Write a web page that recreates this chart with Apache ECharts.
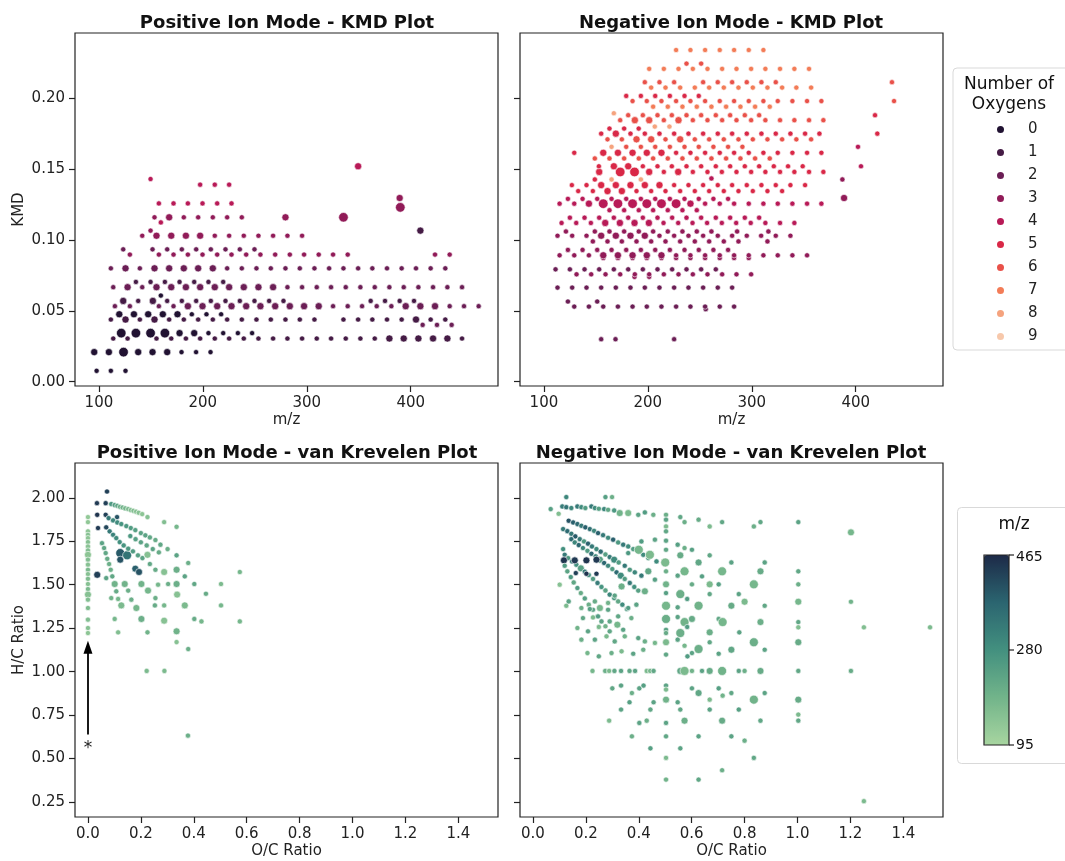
<!DOCTYPE html>
<html><head><meta charset="utf-8">
<script src="https://cdn.jsdelivr.net/npm/echarts@6/dist/echarts.min.js"></script>
<style>html,body{margin:0;padding:0;background:#fff}#c{width:1065px;height:861px}</style>
</head><body><div id="c"></div>
<script>
// ---------- DATA ----------
const oxygenLabels = ['0','1','2','3','4','5','6','7','8','9'];
const oxygenColors = ['#211232','#451b45','#6b1e55','#911b58','#b81a57','#d92847','#e95149','#f37c57','#f5a37e','#f7c8ab'];
const mzTicks = [100,200,300,400];
const kmdTicks = [0,0.05,0.1,0.15,0.2];
const ocTicks = [0,0.2,0.4,0.6,0.8,1.0,1.2,1.4];
const hcTicks = [0.25,0.5,0.75,1.0,1.25,1.5,1.75,2.0];
const mzColorbarTicks = [95,280,465];

// KMD rows: [KMD, number of oxygens, m/z values, size classes (default 1)]
const posKmdRows = [
 [0.0077,0,[97.8,111.5,125.6]],
 [0.0209,0,[95.5,109.6,123.7,137.8,151.6,165.7,179.5,193.5,207.4],[2,2,3,2,2,2,1,1,1]],
 [0.0305,1,[113.8,127.6,155.4,169.6,183.7,197.4,211.5,225.3,239.4,253.5,267.6,281.4,295.5,309.6,323.4,337.5,351.6,365.4,379.5,393.3,407.4,421.5,435.3,449.4],[1,1,1,1,1,1,1,1,1,1,1,1,1,1,1,1,1,1,2,2,2,2,2,1]],
 [0.0343,0,[121.5,135.6,149.7,163.5,177.6,191.7,205.4,219.6,233.7,247.4],[3,3,3,3,2,2,1,1,1,1]],
 [0.0401,2,[411.5,425.3,439.4]],
 [0.0439,1,[111.5,125.6,139.4,153.5,167.6,181.7,195.5,209.6,223.4,237.5,251.6,265.4,279.5,293.3,307.4,335.3,349.4,363.1,377.2,391.3,405.1,419.2,433.3],[1,2,1,2,1,1,1,1,1,1,1,1,1,1,1,1,1,1,1,1,2,1,1]],
 [0.0476,0,[119.6,133.7,147.4,161.5,175.6,189.4,203.5,217.6],[2,2,2,2,2,1,1,1]],
 [0.0533,2,[115.4,129.8,157.7,171.8,185.6,199.7,213.8,227.6,241.7,255.4,269.6,283.7,297.4,311.5,325.3,339.4,353.2,367.3,381.4,395.2,409.3,423.4,437.5,451.3,465.4],[1,1,1,1,2,2,2,2,2,2,2,2,2,2,1,1,1,1,1,2,2,2,1,1,1]],
 [0.0570,1,[123.4,137.8,151.9,165.7,179.8,193.6,207.7,221.8,235.6,249.7,263.8,277.6,361.5,375.3,389.4,403.2],[2,1,2]],
 [0.0608,0,[159.6]],
 [0.0667,2,[113.8,127.6,141.7,155.4,169.6,183.7,197.4,211.5,225.3,239.4,253.5,267.6,281.4,295.5,309.6,323.4,337.5,351.6,365.4,379.5,393.3,407.4,421.5,435.3,449.4],[1,2,1,2,2,2,2,2,2,2,2,2]],
 [0.0704,1,[135.6,149.7,163.5,177.6,191.7,205.4,219.6]],
 [0.0800,2,[111.5,125.6,139.4,153.5,167.6,181.7,195.5,209.6,223.4,237.5,251.6,265.4,279.5,293.3,307.4,321.5,335.3,349.4,363.1,377.2,391.3,405.1,419.2,433.3],[1,2,1,2,2,2,2,2]],
 [0.0897,3,[129.8,157.7,171.8,185.6,199.7,213.8,227.6,241.7,255.4,269.6,283.7,297.4,311.5,325.3,339.4,423.4,437.5]],
 [0.0934,2,[123.4,151.6,165.7,179.8,193.6,207.7,221.8,235.6,249.7]],
 [0.1030,3,[141.7,155.4,169.6,183.7,197.4,211.5,225.3,239.4,253.5,267.6,281.4,295.5],[1,2,2,2,2]],
 [0.1066,3,[149.7]],
 [0.1066,1,[409.3],[2]],
 [0.1124,4,[159.6]],
 [0.1160,3,[153.5,167.6,181.7,195.5,209.6,223.4,237.5,279.5,335.3],[1,2,1,1,1,1,1,2,3]],
 [0.1230,3,[390.0],[3]],
 [0.1258,4,[157.7,171.8,185.6,199.7,213.8,227.6]],
 [0.1296,3,[389.4],[2]],
 [0.1390,4,[197.4,211.5,225.3]],
 [0.1430,4,[149.7]],
 [0.1520,4,[349.4],[2]]
];

const negKmdRows = [
 [0.0300,2,[155.1,168.9,225.3]],
 [0.0512,2,[255.7]],
 [0.0530,2,[129.2,143.3,157.1,171.2,185.3,199.0,213.1,227.2,241.0,255.1,269.2,283.0]],
 [0.0566,2,[123.1,151.3]],
 [0.0664,2,[113.1,127.2,141.0,155.1,169.2,183.3,197.1,211.2,225.3,239.1,253.2,267.3,281.1]],
 [0.0740,3,[187.2,201.3]],
 [0.0758,3,[131.4,145.5,159.3,173.4,187.5,201.3,215.4,229.5,243.3,257.4,271.5,285.3,299.4]],
 [0.0793,2,[111.2,125.0,139.1,153.2,167.3,181.1,195.2,209.3,223.4,237.2,251.3,265.4]],
 [0.0873,3,[157.1,171.2,185.3,199.0,213.1,227.2,241.0,255.1,269.2,283.0,297.1]],
 [0.0892,3,[115.1,129.2,143.3,157.1,171.2,185.3,199.0,213.1,227.2,241.0,255.1,269.2,283.0,297.1,311.2,325.0,339.1,353.2],[1,1,1,2,2,2,2,2]],
 [0.0930,3,[123.1,137.2,151.3,165.1,179.2,193.3,207.1,221.2,235.3,249.0,263.1,277.2]],
 [0.0990,3,[147.1,161.2,175.0,189.1,203.2,217.0,231.1,245.2,259.0,273.1,287.2,315.1]],
 [0.1030,3,[113.1,127.2,141.0,155.1,169.2,183.3,197.1,211.2,225.3,239.1,253.2,267.3,281.1,295.2,309.0,323.1,337.2],[1,1,1,2,2,2,2]],
 [0.1060,3,[121.2,149.0,163.1,177.2,191.3,205.1,219.2,233.3,247.1,261.2,285.9,316.0]],
 [0.1120,4,[117.0,131.1,145.2,159.0,173.1,187.2,201.0,215.1,229.2,243.0,257.0,271.2,285.0,299.0,313.1,327.2,341.0],[1,1,1,2,2,2,2]],
 [0.1157,4,[125.0,139.1,153.2,167.3,181.1,195.2,209.3,223.4,237.2,251.3,265.4,279.2,293.3,307.1]],
 [0.1210,4,[163.1,177.2,191.3,205.1,219.2,233.3,247.1]],
 [0.1256,4,[115.1,129.2,143.3,157.1,171.2,185.3,199.0,213.1,227.2,241.0,255.1,269.2,283.0,297.1,311.2,325.0,339.1,353.2,367.0],[1,1,2,3,3,3,3,3,3,2]],
 [0.1290,4,[123.1,137.2,151.3,165.1,179.2,193.3,207.1,221.2,235.3,249.0,263.1,277.2]],
 [0.1296,3,[388.8],[2]],
 [0.1345,5,[133.0,147.1,161.2,175.0,189.1,203.2,217.0,231.1,245.2,259.0,273.1,287.2,301.0,315.1,329.2],[1,1,2,2]],
 [0.1387,5,[126.9,141.0,155.1,169.2,183.3,197.1,211.2,225.3,239.1,253.2,267.3,281.1,295.2,309.3,323.1,337.2,351.3],[1,1,2,2,2,2,2]],
 [0.1427,5,[149.0]],
 [0.1434,4,[261.2]],
 [0.1427,8,[165.1,193.3]],
 [0.1427,3,[387.2]],
 [0.1480,5,[153.2,173.4,187.2,201.3,215.4,229.2,243.3,257.4,271.2,285.3,299.4,313.1,327.2,341.0,355.1,368.9],[2,3,3,2,1,2]],
 [0.1520,5,[152.9,167.3,181.1,195.2,209.3,223.1,237.2,251.3,265.4,279.2,293.3,307.1,321.2,334.9,349.0],[1,2,2]],
 [0.1520,4,[405.1]],
 [0.1575,6,[149.0,163.1,177.2,191.3,205.1,219.2,233.3,247.1,261.2,275.3,289.1,303.2,317.3]],
 [0.1615,5,[129.2,157.1,171.2,185.3,199.0,213.1,227.2,241.0,255.1,269.2,283.0,297.1,311.2,325.0,339.1,353.2,367.0],[1,2,2,2,2,2]],
 [0.1657,6,[179.2,193.3,207.1,221.2,235.3,249.0,263.1,277.2,291.0]],
 [0.1657,8,[165.1]],
 [0.1657,4,[402.2]],
 [0.1710,6,[161.2,175.0,189.1,203.2,217.0,231.1,245.2,259.0,273.1,287.2,301.0,315.1,329.2,342.9,357.1],[1,1,2,2,1,2]],
 [0.1750,5,[155.1,169.2,183.3,197.1,211.2,225.3,239.1,253.2,267.3,281.1,295.2,309.3,323.1,337.2,351.3,365.1],[1,2]],
 [0.1750,5,[420.8]],
 [0.1786,5,[163.1,177.2,191.2]],
 [0.1800,8,[206.7,220.8]],
 [0.1845,6,[173.4,187.5,201.3,215.4,229.5,243.3,257.4,271.5,285.3,299.4,313.1,327.2,341.0,355.1,368.9],[1,2,2,1,2]],
 [0.1880,6,[181.1,195.2,209.3,223.1,237.2,251.3,265.4,279.2,293.3,307.1]],
 [0.1894,8,[167.3]],
 [0.1880,5,[418.6]],
 [0.1940,7,[205.1,219.2,233.3,247.1,261.2,275.3,289.1,303.2,317.3]],
 [0.1980,6,[185.3,199.0,213.1,227.2,241.0,255.1,269.2,283.0,297.1,311.2,325.0,339.1,353.2,367.0,436.9]],
 [0.2016,5,[179.2,193.3,207.1,221.2,235.3,249.0]],
 [0.2075,7,[203.2,217.0,231.1,245.2,259.0,273.1,287.2,301.0,315.1,329.2,342.9,357.1]],
 [0.2113,6,[197.1,211.2,225.3,253.2,267.3,281.1,295.2,309.3,323.1,434.9]],
 [0.2207,7,[201.3,215.4,229.5,243.3,257.4,271.5,285.3,299.4,313.1,327.2,341.0,355.1]],
 [0.2244,6,[237.2,251.3]],
 [0.2340,7,[227.2,241.0,255.1,269.2,283.0,297.1,311.2]]
];

// van Krevelen points: [O/C, H/C, m/z, size class]
const posVK = [
 [0.072,2.036,430,1],[0.034,1.969,440,1],[0.067,1.969,430,1],[0.035,1.902,450,1],[0.067,1.902,430,1],[0.110,1.889,400,1],[0.038,1.826,440,1],[0.069,1.830,420,1],[0.035,1.557,430,2],[0.122,1.682,390,3],[0.148,1.669,340,3],[0.122,1.644,400,2],[0.179,1.592,380,2],[0.193,1.573,400,2],
 [0.088,1.964,260,1],[0.101,1.958,240,1],[0.111,1.954,220,1],[0.121,1.948,200,1],[0.131,1.944,190,1],[0.141,1.939,180,1],[0.152,1.935,170,1],[0.162,1.929,160,1],[0.172,1.925,160,1],[0.182,1.920,150,1],[0.192,1.914,150,1],[0.205,1.906,140,1],[0.225,1.889,150,1],
 [0,1.889,130,1],[0,1.860,135,1],[0,1.807,140,1],[0,1.787,150,1],[0,1.768,140,1],[0,1.745,155,1],[0,1.720,145,1],[0,1.697,160,1],[0,1.672,140,2],[0,1.644,160,1],[0,1.615,150,1],[0,1.586,170,1],[0,1.561,150,1],[0,1.534,165,1],[0,1.504,150,1],[0,1.475,170,1],[0,1.443,150,2],[0,1.414,160,1],[0,1.366,165,1],[0,1.299,160,1],[0,1.251,150,1],[0,1.222,140,1],
 [0.078,1.883,330,1],[0.095,1.870,300,1],[0.111,1.858,290,1],[0.126,1.849,270,1],[0.145,1.837,260,1],[0.162,1.826,250,1],[0.179,1.814,240,1],[0.200,1.797,230,1],[0.217,1.784,230,1],[0.234,1.772,220,1],[0.255,1.757,210,1],[0.274,1.730,220,1],[0.301,1.705,200,1],[0.335,1.669,230,1],[0.379,1.625,200,1],
 [0.082,1.807,330,1],[0.095,1.787,310,1],[0.107,1.768,290,1],[0.120,1.745,280,1],[0.135,1.726,270,1],[0.152,1.707,260,1],[0.170,1.692,250,1],[0.189,1.669,240,1],[0.206,1.653,230,1],[0.225,1.672,150,2],[0.234,1.619,220,1],[0.255,1.586,210,1],[0.288,1.573,150,2],[0.303,1.504,200,1],[0.335,1.448,210,1],
 [0.053,1.739,230,1],[0.061,1.711,220,1],[0.067,1.682,220,1],[0.073,1.649,210,1],[0.080,1.619,200,1],[0.086,1.586,200,1],[0.092,1.548,220,1],[0.101,1.504,190,2],[0.107,1.462,210,1],[0.114,1.418,180,1],[0.126,1.381,170,2],
 [0.069,1.538,230,1],[0.139,1.504,190,2],[0.202,1.504,190,2],[0.265,1.500,180,1],[0.337,1.443,150,2],[0.366,1.548,230,1],[0.335,1.586,200,2],[0.402,1.504,220,1],[0.446,1.448,210,1],[0.503,1.504,170,1],[0.574,1.573,180,1],[0.503,1.381,180,1],[0.574,1.289,180,1],[0.402,1.303,210,1],[0.429,1.289,180,1],[0.366,1.381,170,2],[0.335,1.232,190,2],[0.335,1.170,150,1],[0.379,1.130,200,1],[0.225,1.226,190,1],[0.114,1.226,160,1],[0.288,1.293,150,2],[0.202,1.303,200,2],[0.101,1.303,180,1],[0.183,1.366,180,2],[0.253,1.381,210,1],[0.164,1.414,200,1],[0.088,1.423,190,1],[0.152,1.466,200,1],[0.227,1.466,180,2],[0.255,1.423,200,1],[0.288,1.381,180,1],[0.335,1.504,200,2],[0.288,1.860,160,1],[0.335,1.833,180,1],
 [0.222,1.004,170,1],[0.289,1.004,170,1],[0.378,0.632,200,1],
 [0.160,1.780,260,1],[0.180,1.762,240,1],[0.200,1.744,230,1],[0.222,1.726,220,1],[0.245,1.705,230,1],[0.268,1.686,210,1]
];

const negVK = [
 [0.126,2.004,300,1],[0.274,2.004,240,1],[0.299,2.004,200,1],[0.067,1.935,240,1],[0.097,1.908,160,1],
 [0.111,1.950,320,1],[0.126,1.946,340,1],[0.145,1.941,300,1],[0.168,1.950,330,1],[0.183,1.946,290,1],[0.198,1.941,250,1],[0.221,1.950,330,1],[0.234,1.941,290,1],[0.249,1.937,240,1],[0.269,1.935,300,1],[0.284,1.931,220,1],[0.307,1.927,260,1],[0.328,1.912,190,2],[0.360,1.912,170,2],[0.398,1.902,230,1],[0.423,1.916,250,1],[0.455,1.902,200,1],
 [0.135,1.868,400,1],[0.152,1.858,380,1],[0.168,1.849,360,1],[0.183,1.839,330,1],[0.198,1.830,380,1],[0.215,1.820,350,1],[0.231,1.810,300,1],[0.246,1.797,380,1],[0.265,1.785,330,1],[0.284,1.770,290,1],[0.303,1.759,380,1],[0.322,1.743,260,1],[0.341,1.730,330,1],[0.360,1.720,290,1],[0.379,1.705,250,1],[0.398,1.692,330,1],[0.417,1.672,290,1],[0.436,1.653,240,1],[0.467,1.634,290,1],
 [0.114,1.820,330,1],[0.130,1.808,360,1],[0.145,1.793,330,1],[0.160,1.778,390,1],[0.177,1.762,330,1],[0.193,1.749,260,1],[0.208,1.736,380,1],[0.223,1.720,330,1],[0.240,1.705,290,1],[0.256,1.690,360,1],[0.274,1.674,240,1],[0.290,1.659,330,1],[0.307,1.644,290,2],[0.324,1.628,250,1],[0.347,1.609,330,1],[0.366,1.586,260,1],[0.385,1.571,300,1],[0.410,1.552,330,1],
 [0.145,1.762,360,1],[0.158,1.743,300,1],[0.173,1.728,370,1],[0.189,1.711,300,1],[0.206,1.695,250,1],[0.221,1.678,370,1],[0.237,1.663,300,1],[0.253,1.644,240,2],[0.269,1.625,370,1],[0.284,1.609,300,1],[0.300,1.590,250,1],[0.316,1.571,360,1],[0.332,1.552,290,2],[0.347,1.533,250,1],[0.366,1.510,330,1],[0.383,1.487,280,1],[0.398,1.466,240,1],
 [0.114,1.705,280,1],[0.120,1.672,330,1],[0.133,1.653,260,1],[0.148,1.634,330,1],[0.164,1.615,280,1],[0.181,1.594,240,2],[0.196,1.575,330,1],[0.211,1.556,280,1],[0.227,1.533,250,1],[0.244,1.510,320,1],[0.259,1.487,270,1],[0.274,1.467,230,1],[0.290,1.443,300,1],[0.307,1.423,260,1],[0.322,1.404,220,1],[0.338,1.385,290,1],[0.355,1.360,250,1],
 [0.117,1.640,450,2],[0.158,1.640,440,2],[0.202,1.640,450,2],[0.240,1.644,440,2],[0.162,1.567,430,1],[0.202,1.563,450,1],[0.240,1.563,440,1],
 [0.120,1.609,250,1],[0.130,1.577,230,1],[0.143,1.544,260,1],[0.154,1.513,220,1],[0.168,1.481,250,1],[0.181,1.452,210,1],[0.196,1.421,240,1],[0.211,1.385,200,1],[0.227,1.356,230,1],[0.244,1.318,200,1],[0.259,1.289,230,1],[0.274,1.261,190,1],[0.290,1.232,220,1],
 [0.101,1.500,150,1],[0.126,1.379,170,1],[0.135,1.404,230,1],[0.183,1.366,200,1],[0.215,1.360,240,1],[0.253,1.366,180,2],[0.284,1.356,230,1],[0.189,1.308,220,1],[0.227,1.312,170,1],[0.246,1.318,250,1],[0.168,1.251,190,1],[0.208,1.232,230,1],[0.249,1.257,170,1],[0.290,1.289,220,1],[0.319,1.270,180,2],[0.341,1.241,230,1],[0.183,1.184,200,1],[0.234,1.184,230,1],[0.278,1.203,170,1],[0.309,1.174,220,1],[0.347,1.203,190,1],[0.398,1.193,230,1],[0.423,1.174,200,1],[0.206,1.107,180,1],[0.249,1.088,220,1],[0.297,1.107,200,1],[0.335,1.117,170,1],[0.379,1.103,230,1],[0.417,1.126,200,1],[0.461,1.165,180,1],[0.442,1.672,170,3],[0.461,1.759,230,1],[0.410,1.749,250,1],[0.400,1.701,180,3],[0.360,1.682,260,1],[0.436,1.577,220,2],[0.461,1.529,240,1],[0.423,1.462,200,2],[0.391,1.385,230,1],[0.372,1.308,200,1],[0.360,1.366,250,1],[0.322,1.318,220,1],[0.284,1.395,190,1],[0.234,1.404,210,1],[0.309,1.437,230,1],[0.335,1.490,200,2],
 [0.503,1.902,200,1],[0.503,1.874,230,1],[0.557,1.889,220,1],[0.573,1.860,200,1],[0.626,1.874,210,1],[0.668,1.835,170,1],[0.715,1.860,220,1],[0.835,1.835,200,1],[0.860,1.860,220,1],[1.003,1.860,230,1],[1.202,1.801,180,2],[0.503,1.835,170,1],[0.503,1.807,220,1],
 [0.503,1.753,230,1],[0.503,1.701,220,1],[0.547,1.730,240,1],[0.573,1.711,200,1],[0.601,1.701,240,1],[0.557,1.669,210,2],[0.500,1.628,170,3],[0.668,1.669,220,1],[0.626,1.628,220,2],[0.750,1.628,230,1],[0.876,1.628,230,1],[0.573,1.577,180,3],[0.503,1.577,200,1],[0.547,1.552,230,1],[0.639,1.548,240,1],[0.715,1.577,180,3],[0.860,1.577,210,2],[1.003,1.577,220,1],
 [0.503,1.502,190,2],[0.601,1.502,210,1],[0.668,1.502,170,2],[0.702,1.502,240,1],[0.835,1.502,180,3],[1.003,1.502,200,1],[0.503,1.452,240,1],[0.557,1.446,200,3],[0.503,1.379,180,3],[0.547,1.370,230,1],[0.583,1.418,250,1],[0.626,1.379,190,3],[0.668,1.446,220,1],[0.750,1.379,210,2],[0.778,1.446,230,1],[0.800,1.402,170,2],[0.876,1.379,220,1],[1.003,1.402,180,2],[1.202,1.402,190,1],
 [0.503,1.303,200,3],[0.547,1.314,230,1],[0.573,1.285,190,3],[0.601,1.303,210,2],[0.583,1.257,250,1],[0.668,1.226,200,2],[0.702,1.303,220,1],[0.717,1.285,180,3],[0.780,1.226,230,1],[0.860,1.285,200,2],[1.003,1.285,220,1],[1.003,1.255,160,1],[1.251,1.255,160,1],[1.501,1.255,170,1],[0.503,1.241,230,1],
 [0.503,1.222,210,1],[0.557,1.222,200,3],[0.503,1.169,170,2],[0.547,1.184,230,1],[0.573,1.149,180,1],[0.626,1.130,200,3],[0.668,1.169,220,1],[0.601,1.107,230,1],[0.584,1.088,250,1],[0.702,1.103,230,1],[0.750,1.126,220,2],[0.835,1.169,200,3],[0.876,1.126,230,1],[1.003,1.169,210,2],[0.503,1.098,220,1],
 [0.225,1.004,180,1],[0.273,1.004,200,1],[0.288,1.004,170,1],[0.308,1.004,220,1],[0.333,1.004,230,1],[0.365,1.004,220,1],[0.386,1.004,230,1],[0.430,1.004,170,1],[0.443,1.004,180,1],[0.456,1.004,220,1],[0.557,1.004,220,2],[0.573,1.004,170,3],[0.601,1.004,190,1],[0.639,1.004,230,1],[0.668,1.004,210,2],[0.715,1.004,190,3],[0.778,1.004,230,1],[0.800,1.004,200,1],[0.860,1.004,210,2],[1.003,1.004,220,1],[1.202,1.004,210,1],
 [0.300,0.904,220,1],[0.333,0.920,230,1],[0.374,0.877,200,1],[0.402,0.904,230,1],[0.418,0.920,240,1],[0.503,0.920,230,1],[0.503,0.897,170,1],[0.503,0.839,190,2],[0.547,0.824,230,1],[0.601,0.904,230,1],[0.626,0.877,220,2],[0.668,0.839,170,1],[0.702,0.904,240,1],[0.717,0.862,190,1],[0.750,0.877,220,1],[0.835,0.839,190,3],[0.876,0.877,230,1],[1.003,0.839,210,2],[1.003,0.753,170,1],[1.003,0.718,220,1],
 [0.333,0.782,230,1],[0.365,0.824,240,1],[0.444,0.782,220,1],[0.456,0.824,230,1],[0.557,0.782,220,1],[0.668,0.782,230,1],[0.778,0.782,240,1],[0.288,0.718,170,1],[0.402,0.705,230,1],[0.430,0.718,200,1],[0.503,0.705,230,1],[0.573,0.718,200,2],[0.715,0.718,210,2],[0.860,0.718,220,1],
 [0.374,0.628,200,1],[0.503,0.628,220,1],[0.626,0.628,230,1],[0.750,0.628,230,1],[0.800,0.603,200,1],[0.444,0.559,240,1],[0.557,0.559,230,1],[0.503,0.504,170,1],[0.835,0.504,220,1],[0.715,0.433,200,1],[0.503,0.379,190,1],[0.626,0.379,220,1],[1.251,0.255,170,1]
];

// ---------- CHART ----------
const FONT = '"DejaVu Sans", "Liberation Sans", sans-serif';
const SZ_TOP = {1:5.2, 2:7.2, 3:9.6};
const SZ_BOT = {1:5.2, 2:7, 3:9};
const chart = echarts.init(document.getElementById('c'), null, {renderer:'canvas'});

const gridBox = [
 {left:75, top:33, width:423, height:353},
 {left:520, top:33, width:423, height:353},
 {left:75, top:463, width:423, height:354},
 {left:520, top:463, width:423, height:354}
];
const grid = gridBox.map(g => Object.assign({show:true, borderColor:'#222', borderWidth:1.2, backgroundColor:'rgba(0,0,0,0)', outerBoundsMode:'none'}, g));

function axisCommon(ticks, fmt, showLabels){
 return {
  type:'value', splitLine:{show:false},
  axisLine:{show:false, onZero:false},
  axisTick:{show:true, inside:false, length:6, customValues:ticks, lineStyle:{color:'#222', width:1.2}},
  axisLabel:{show:showLabels, customValues:ticks, formatter:fmt, margin:10, fontFamily:FONT, fontSize:15, color:'#222'},
  nameTextStyle:{fontFamily:FONT, fontSize:15, color:'#222'}, nameLocation:'middle'
 };
}
const f0 = v => v.toFixed(0), f1 = v => v.toFixed(1), f2 = v => v.toFixed(2);
const xAxis = [
 Object.assign(axisCommon(mzTicks, f0, true), {gridIndex:0, min:77, max:484, name:'m/z', nameGap:27}),
 Object.assign(axisCommon(mzTicks, f0, true), {gridIndex:1, min:77, max:484, name:'m/z', nameGap:27}),
 Object.assign(axisCommon(ocTicks, f1, true), {gridIndex:2, min:-0.049, max:1.55, name:'O/C Ratio', nameGap:27}),
 Object.assign(axisCommon(ocTicks, f1, true), {gridIndex:3, min:-0.049, max:1.55, name:'O/C Ratio', nameGap:27})
];
const yAxis = [
 Object.assign(axisCommon(kmdTicks, f2, true), {gridIndex:0, min:-0.003, max:0.246, name:'KMD', nameGap:48}),
 Object.assign(axisCommon(kmdTicks, f2, false), {gridIndex:1, min:-0.003, max:0.246}),
 Object.assign(axisCommon(hcTicks, f2, true), {gridIndex:2, min:0.164, max:2.2, name:'H/C Ratio', nameGap:48}),
 Object.assign(axisCommon(hcTicks, f2, false), {gridIndex:3, min:0.164, max:2.2})
];

const series = [];
function addKmd(rows, gi){
 for (let o = 0; o < oxygenLabels.length; o++){
  const data = [];
  rows.forEach(r => { if (r[1] === o) r[2].forEach((mz, i) => data.push([mz, r[0], (r[3] && r[3][i]) || 1])); });
  series.push({type:'scatter', name:oxygenLabels[o], xAxisIndex:gi, yAxisIndex:gi, data,
   symbolSize: d => SZ_TOP[d[2]],
   itemStyle:{color:oxygenColors[o], borderColor:'#fff', borderWidth:0.6, opacity:1},
   emphasis:{disabled:true}, animation:false});
 }
}
addKmd(posKmdRows, 0);
addKmd(negKmdRows, 1);
series.push({type:'scatter', name:'posVK', xAxisIndex:2, yAxisIndex:2, data:posVK,
 symbolSize: d => SZ_BOT[d[3]], itemStyle:{borderColor:'#fff', borderWidth:0.6, opacity:1},
 emphasis:{disabled:true}, animation:false,
 markLine:{silent:true, animation:false, symbol:['none','triangle'], symbolSize:[9,13],
   lineStyle:{color:'#000', width:1.8, type:'solid'}, label:{show:false},
   data:[[{coord:[0,0.638]},{coord:[0,1.14]}]]},
 markPoint:{silent:true, animation:false, data:[{coord:[0,0.56], symbol:'circle', symbolSize:1,
   itemStyle:{color:'rgba(0,0,0,0)'}, label:{show:true, position:'inside', formatter:'*', fontFamily:FONT, fontSize:17, color:'#222'}}]}
});
series.push({type:'scatter', name:'negVK', xAxisIndex:3, yAxisIndex:3, data:negVK,
 symbolSize: d => SZ_BOT[d[3]], itemStyle:{borderColor:'#fff', borderWidth:0.6, opacity:1},
 emphasis:{disabled:true}, animation:false});

const txt = (x, y, text, font, align) => ({type:'text', x, y, silent:true, z:100,
 style:{text, font, fill:'#111', align: align || 'center', verticalAlign:'middle'}});

const option = {
 backgroundColor:'#fff',
 animation:false,
 grid, xAxis, yAxis, series,
 legend:{data:oxygenLabels, orient:'vertical', left:953, top:68, icon:'circle', itemWidth:9, itemHeight:9, itemGap:8,
   padding:[54,60,6,42], borderColor:'#d9d9d9', borderWidth:1, borderRadius:4, backgroundColor:'rgba(255,255,255,0)',
   selectedMode:false, textStyle:{fontFamily:FONT, fontSize:15, color:'#222', padding:[0,0,0,18]}},
 visualMap:{type:'continuous', min:95, max:465, dimension:2, seriesIndex:[20,21], orient:'vertical',
   left:984, top:555, itemWidth:25, itemHeight:190, padding:0, calculable:false, text:null,
   inRange:{color:['#a7d5a0','#72b48a','#43907f','#2b6570','#1d2a48']}},
 graphic:[
  txt(287, 23, 'Positive Ion Mode - KMD Plot', 'bold 18px ' + FONT),
  txt(731, 23, 'Negative Ion Mode - KMD Plot', 'bold 18px ' + FONT),
  txt(287, 453, 'Positive Ion Mode - van Krevelen Plot', 'bold 18px ' + FONT),
  txt(731, 453, 'Negative Ion Mode - van Krevelen Plot', 'bold 18px ' + FONT),
  txt(1009, 85, 'Number of', '17px ' + FONT),
  txt(1009, 105, 'Oxygens', '17px ' + FONT),
  {type:'rect', silent:true, z:-10, shape:{x:957.5, y:507.5, width:130, height:256, r:4}, style:{fill:'#fff', stroke:'#d9d9d9', lineWidth:1}},
  txt(1014, 525, 'm/z', '17px ' + FONT),
  {type:'rect', silent:true, z:10, shape:{x:984, y:555, width:25, height:190}, style:{fill:'none', stroke:'#222', lineWidth:1.2}},
  {type:'line', silent:true, shape:{x1:1009, y1:555, x2:1014, y2:555}, style:{stroke:'#222', lineWidth:1.2}},
  {type:'line', silent:true, shape:{x1:1009, y1:650, x2:1014, y2:650}, style:{stroke:'#222', lineWidth:1.2}},
  {type:'line', silent:true, shape:{x1:1009, y1:745, x2:1014, y2:745}, style:{stroke:'#222', lineWidth:1.2}},
  txt(1016, 557, String(mzColorbarTicks[2]), '14px ' + FONT, 'left'),
  txt(1016, 650, String(mzColorbarTicks[1]), '14px ' + FONT, 'left'),
  txt(1016, 745, String(mzColorbarTicks[0]), '14px ' + FONT, 'left')
 ]
};
chart.setOption(option);
</script>
</body></html>
